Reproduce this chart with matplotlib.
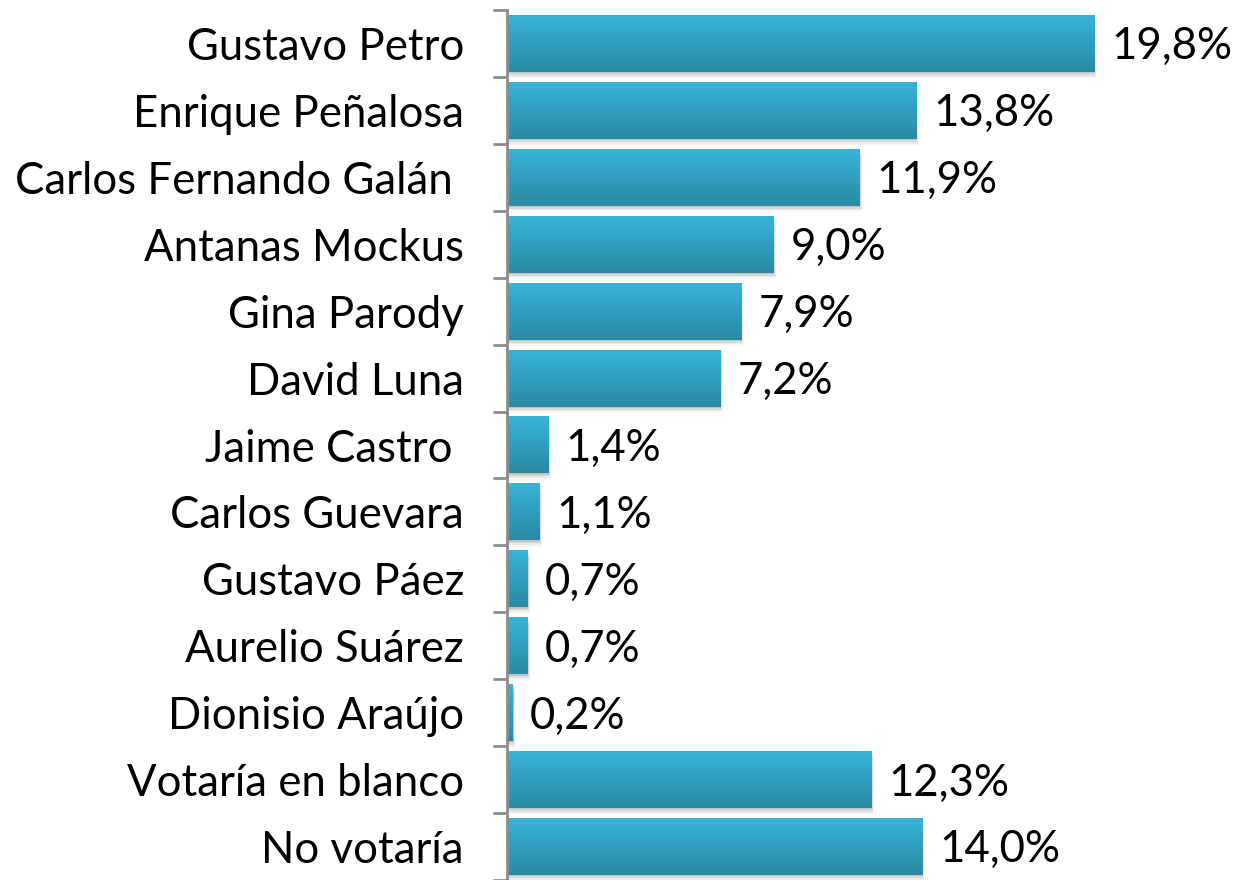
import matplotlib
matplotlib.use("Agg")
import matplotlib.pyplot as plt
import numpy as np
from matplotlib.colors import LinearSegmentedColormap
from matplotlib.transforms import ScaledTranslation

categories = ["Gustavo Petro", "Enrique Peñalosa", "Carlos Fernando Galán ", "Antanas Mockus",
              "Gina Parody", "David Luna", "Jaime Castro ", "Carlos Guevara", "Gustavo Páez",
              "Aurelio Suárez", "Dionisio Araújo", "Votaría en blanco", "No votaría"]
values = [19.8, 13.8, 11.9, 9.0, 7.9, 7.2, 1.4, 1.1, 0.7, 0.7, 0.2, 12.3, 14.0]
value_labels = ["19,8%", "13,8%", "11,9%", "9,0%", "7,9%", "7,2%", "1,4%", "1,1%", "0,7%",
                "0,7%", "0,2%", "12,3%", "14,0%"]

plt.rcParams['font.family'] = ['Lato', 'DejaVu Sans']

W, H = 1246, 880
fig = plt.figure(figsize=(W / 100, H / 100), dpi=100)
ax = fig.add_axes([507 / W, 0.0, 1 - 507 / W, 1 - 10 / H])

n = len(categories)
ypos = np.arange(n)
bh = 0.85
cmap = LinearSegmentedColormap.from_list("bar", ["#38b3d8", "#2f9fc0", "#2a8aa2"])
grad = np.linspace(0, 1, 64).reshape(-1, 1)

for y, v in zip(ypos, values):
    # shadow
    for k, a in enumerate([0.10, 0.07, 0.05, 0.03]):
        off = 0.02 + 0.025 * k
        ax.add_patch(plt.Rectangle((0, y - bh / 2 + off), v + 0.02 * (k + 1), bh,
                                   facecolor="black", alpha=a, edgecolor="none", zorder=1))
    ax.imshow(grad, extent=[0, v, y + bh / 2, y - bh / 2], cmap=cmap, aspect="auto",
              zorder=2, interpolation="bilinear")

fs = 31.5
for y, v, lab in zip(ypos, values, value_labels):
    ax.text(v, y + 0.05, lab, ha="left", va="center", fontsize=fs, color="black",
            transform=ax.transData + ScaledTranslation(17 / 100, 0, fig.dpi_scale_trans),
            zorder=3)

ax.set_xlim(0, (W - 507) / 29.65)
ax.set_ylim(n - 0.5, -0.5)

ax.set_yticks(np.arange(n + 1) - 0.5)
ax.set_yticklabels([])
ax.set_yticks(ypos, minor=True)
ax.set_yticklabels(categories, minor=True, fontsize=fs)
ax.tick_params(axis="y", which="major", length=10, width=2, color="#8c8c8c")
ax.tick_params(axis="y", which="minor", length=0, pad=31)
ax.set_xticks([])

for s in ["top", "right", "bottom"]:
    ax.spines[s].set_visible(False)
ax.spines["left"].set_color("#8c8c8c")
ax.spines["left"].set_linewidth(2)
ax.set_facecolor("none")

fig.savefig("out.png", dpi=100)
